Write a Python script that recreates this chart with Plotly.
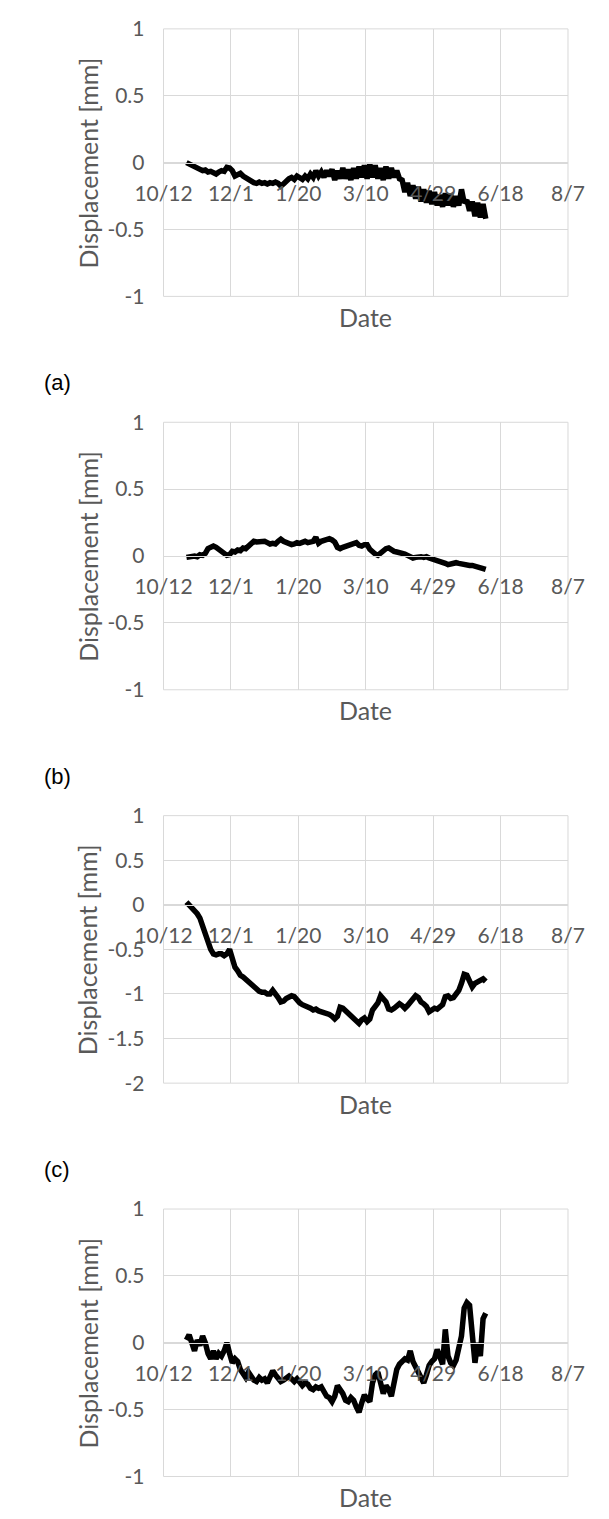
import pandas as pd
import plotly.graph_objects as go

# ---------------- data ----------------
SERIES_START = "2015-10-29"   # first logged day
SAMPLE_STEP = "2D"            # one reading every two days

DISP_TOP = [
    0.0, -0.01, -0.025, -0.03, -0.045, -0.05, -0.06, -0.055, -0.07, -0.065,
    -0.08, -0.085, -0.07, -0.06, -0.065, -0.035, -0.04, -0.06, -0.1, -0.085,
    -0.08, -0.1, -0.115, -0.12, -0.14, -0.15, -0.155, -0.145, -0.155, -0.15,
    -0.16, -0.15, -0.155, -0.145, -0.155, -0.175, -0.16, -0.135, -0.12, -0.11,
    -0.125, -0.1, -0.11, -0.125, -0.1, -0.12, -0.085, -0.11, -0.06, -0.1,
    -0.07, -0.11, -0.06, -0.1, -0.05, -0.13, -0.06, -0.12, -0.04, -0.12,
    -0.05, -0.13, -0.04, -0.12, -0.03, -0.11, -0.02, -0.12, -0.01, -0.11,
    -0.02, -0.12, -0.04, -0.13, -0.03, -0.12, -0.04, -0.11, -0.06, -0.12,
    -0.13, -0.22, -0.15, -0.25, -0.17, -0.27, -0.18, -0.29, -0.2, -0.3,
    -0.21, -0.31, -0.22, -0.32, -0.24, -0.33, -0.23, -0.32, -0.24, -0.33,
    -0.25, -0.32, -0.2, -0.3, -0.28, -0.36, -0.29, -0.4, -0.3, -0.41,
    -0.31, -0.42,
]

DISP_A = [
    -0.01, -0.005, -0.01, 0.0, -0.005, 0.01, 0.005, 0.02, 0.055, 0.07,
    0.075, 0.065, 0.05, 0.045, 0.03, 0.005, 0.01, 0.035, 0.03, 0.045,
    0.04, 0.06, 0.055, 0.07, 0.09, 0.11, 0.105, 0.11, 0.105, 0.11,
    0.1, 0.09, 0.095, 0.09, 0.11, 0.125, 0.11, 0.1, 0.095, 0.085,
    0.09, 0.1, 0.095, 0.105, 0.11, 0.1, 0.105, 0.11, 0.14, 0.095,
    0.11, 0.115, 0.125, 0.13, 0.12, 0.105, 0.065, 0.055, 0.065, 0.07,
    0.08, 0.085, 0.095, 0.1, 0.08, 0.075, 0.085, 0.085, 0.05, 0.03,
    0.015, 0.005, 0.025, 0.04, 0.055, 0.06, 0.045, 0.035, 0.03, 0.025,
    0.03, 0.015, 0.005, -0.01, -0.015, -0.01, -0.005, -0.005, -0.01, -0.005,
    -0.015, -0.02, -0.025, -0.03, -0.035, -0.045, -0.055, -0.065, -0.06, -0.05,
    -0.05, -0.055, -0.06, -0.07, -0.075, -0.07, -0.07, -0.075, -0.085, -0.085,
    -0.09, -0.1,
]

DISP_B = [
    0.03, 0.0, -0.04, -0.06, -0.1, -0.15, -0.25, -0.31, -0.43, -0.5,
    -0.55, -0.56, -0.55, -0.55, -0.57, -0.55, -0.5, -0.62, -0.7, -0.74,
    -0.79, -0.81, -0.84, -0.86, -0.88, -0.93, -0.96, -0.97, -0.98, -0.98,
    -1.0, -1.0, -0.96, -0.99, -1.04, -1.09, -1.08, -1.05, -1.04, -1.02,
    -1.03, -1.07, -1.1, -1.12, -1.13, -1.15, -1.16, -1.18, -1.17, -1.19,
    -1.2, -1.2, -1.22, -1.23, -1.25, -1.28, -1.25, -1.15, -1.16, -1.19,
    -1.23, -1.26, -1.29, -1.31, -1.33, -1.29, -1.27, -1.31, -1.28, -1.18,
    -1.14, -1.1, -1.02, -1.05, -1.09, -1.17, -1.18, -1.16, -1.13, -1.11,
    -1.13, -1.16, -1.13, -1.09, -1.06, -1.02, -1.04, -1.09, -1.11, -1.14,
    -1.2, -1.17, -1.16, -1.17, -1.15, -1.12, -1.03, -1.02, -1.05, -1.04,
    -1.0, -0.96, -0.88, -0.78, -0.79, -0.84, -0.92, -0.88, -0.86, -0.84,
    -0.83, -0.86,
]

DISP_C = [
    0.02, 0.06, 0.0, -0.06, 0.02, -0.02, 0.05, 0.0, -0.08, -0.12,
    -0.06, -0.12, -0.08, -0.1, -0.06, 0.0, -0.08, -0.15, -0.12, -0.14,
    -0.2, -0.24, -0.26, -0.22, -0.25, -0.28, -0.29, -0.26, -0.28, -0.27,
    -0.3, -0.25, -0.21, -0.24, -0.27, -0.29, -0.28, -0.26, -0.25, -0.27,
    -0.29, -0.27, -0.3, -0.32, -0.3, -0.31, -0.34, -0.35, -0.33, -0.34,
    -0.33, -0.36, -0.4, -0.41, -0.44, -0.4, -0.32, -0.35, -0.38, -0.43,
    -0.44, -0.41, -0.43, -0.48, -0.52, -0.45, -0.39, -0.42, -0.44, -0.3,
    -0.24, -0.22, -0.3, -0.38, -0.32, -0.35, -0.4, -0.3, -0.2, -0.16,
    -0.14, -0.12, -0.13, -0.06, -0.14, -0.18, -0.21, -0.25, -0.3, -0.24,
    -0.17, -0.14, -0.12, -0.05, -0.1, -0.16, 0.1, -0.1, -0.15, -0.17,
    -0.13, -0.05, 0.05, 0.26, 0.3, 0.28, 0.05, -0.15, 0.0, -0.1,
    0.18, 0.22,
]

PANEL_SERIES = [DISP_TOP, DISP_A, DISP_B, DISP_C]
PANEL_CAPTIONS = ["(a)", "(b)", "(c)", ""]
Y_RANGES = [[-1, 1], [-1, 1], [-2, 1], [-1, 1]]
Y_TICKS = [
    [1, 0.5, 0, -0.5, -1],
    [1, 0.5, 0, -0.5, -1],
    [1, 0.5, 0, -0.5, -1, -1.5, -2],
    [1, 0.5, 0, -0.5, -1],
]
Y_TICK_LABELS = [
    ["1", "0.5", "0", "-0.5", "-1"],
    ["1", "0.5", "0", "-0.5", "-1"],
    ["1", "0.5", "0", "-0.5", "-1", "-1.5", "-2"],
    ["1", "0.5", "0", "-0.5", "-1"],
]
X_TICK_DATES = ["2015-10-12", "2015-12-01", "2016-01-20", "2016-03-10",
                "2016-04-29", "2016-06-18", "2016-08-07"]
X_TICK_LABELS = ["10/12", "12/1", "1/20", "3/10", "4/29", "6/18", "8/7"]
X_RANGE = ["2015-10-12", "2016-08-07"]

# ---------------- layout constants ----------------
# the page body has an 8px margin, so figure coordinates = screen - 8
OFF = 8
W, H = 609 - OFF, 1519 - OFF
LEFT, RIGHT = 145 - OFF, 583 - OFF
TOPS = [15 - OFF, 415 - OFF, 815 - OFF, 1215 - OFF]
BOTTOMS = [287 - OFF, 687 - OFF, 1087 - OFF, 1487 - OFF]
YTITLE_X = 63 - OFF
CAPTION_X = 13 - OFF
GRID = "#d9d9d9"
TXT = "#595959"
TICK_FONT = dict(family="Lato, Open Sans, sans-serif", size=21, color=TXT)
TITLE_FONT = dict(family="Lato, Open Sans, sans-serif", size=25, color=TXT)

fig = go.Figure()
annotations = []
shapes = []
layout = {}

for i, vals in enumerate(PANEL_SERIES):
    n = i + 1
    sfx = "" if n == 1 else str(n)
    dates = pd.date_range(SERIES_START, periods=len(vals), freq=SAMPLE_STEP)
    fig.add_trace(go.Scatter(
        x=dates, y=vals, mode="lines",
        line=dict(color="black", width=5.5),
        xaxis=f"x{sfx}", yaxis=f"y{sfx}", showlegend=False,
    ))
    t, b = TOPS[i], BOTTOMS[i]
    dom_lo, dom_hi = 1 - b / H, 1 - t / H
    ylo, yhi = Y_RANGES[i]
    zero_pos = dom_lo + (0 - ylo) / (yhi - ylo) * (dom_hi - dom_lo)

    layout[f"xaxis{sfx}"] = dict(
        domain=[LEFT / W, RIGHT / W], type="date", range=X_RANGE,
        tickmode="array", tickvals=X_TICK_DATES, ticktext=X_TICK_LABELS,
        showgrid=True, gridcolor=GRID, gridwidth=1,
        showline=True, linecolor=GRID, linewidth=1,
        zeroline=False, anchor="free", position=zero_pos,
        ticks="", ticklabelstandoff=12, tickfont=TICK_FONT,
    )
    layout[f"yaxis{sfx}"] = dict(
        domain=[dom_lo, dom_hi], range=Y_RANGES[i],
        tickmode="array", tickvals=Y_TICKS[i], ticktext=Y_TICK_LABELS[i],
        showgrid=True, gridcolor=GRID, gridwidth=1,
        zeroline=False, showline=False, anchor=f"x{sfx}",
        ticks="", ticklabelstandoff=18, tickfont=TICK_FONT,
    )
    # plot-area frame (edge gridlines)
    shapes.append(dict(
        type="rect", xref=f"x{sfx} domain", yref=f"y{sfx} domain",
        x0=0, x1=1, y0=0, y1=1, line=dict(color=GRID, width=1),
        fillcolor="rgba(0,0,0,0)", layer="below",
    ))

    annotations.append(dict(
        text="Displacement [mm]", textangle=-90, showarrow=False,
        xref="paper", yref="paper", x=YTITLE_X / W, y=1 - ((t + b) / 2) / H,
        xanchor="center", yanchor="middle", font=TITLE_FONT,
    ))
    annotations.append(dict(
        text="Date", showarrow=False, xref="paper", yref="paper",
        x=((LEFT + RIGHT) / 2) / W, y=1 - (b + 21) / H,
        xanchor="center", yanchor="middle", font=TITLE_FONT,
    ))
    if PANEL_CAPTIONS[i]:
        annotations.append(dict(
            text=PANEL_CAPTIONS[i], showarrow=False, xref="paper", yref="paper",
            x=CAPTION_X / W, y=1 - (b + 88) / H, xanchor="left", yanchor="middle",
            font=dict(family="Liberation Sans, Arial, sans-serif", size=22, color="black"),
        ))

fig.update_layout(
    width=W, height=H,
    margin=dict(l=0, r=0, t=0, b=0),
    paper_bgcolor="white", plot_bgcolor="white",
    annotations=annotations, shapes=shapes, showlegend=False,
    **layout,
)

fig.write_html("out.html")
